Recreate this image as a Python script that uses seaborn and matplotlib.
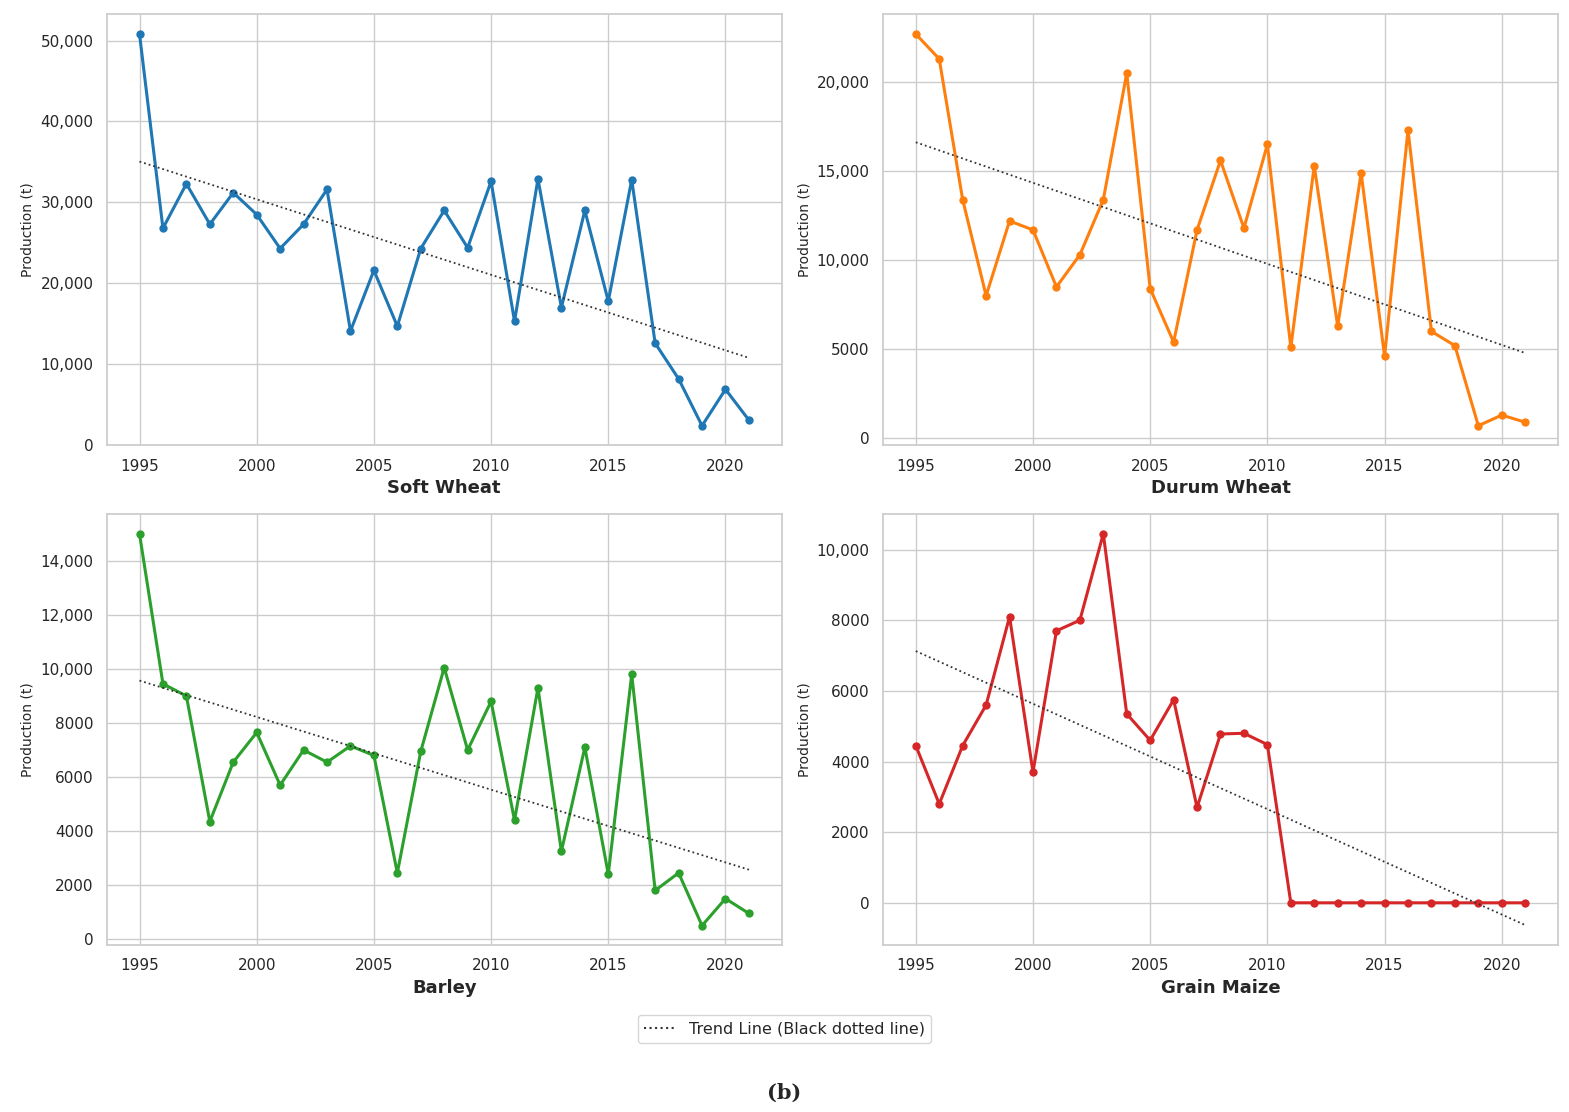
import numpy as np
import seaborn as sns
import matplotlib.pyplot as plt
from matplotlib.ticker import FuncFormatter
from matplotlib.lines import Line2D

years = list(range(1995, 2022))
soft_wheat = [50800, 26800, 32300, 27300, 31200, 28500, 24300, 27300, 31600, 14100,
              21600, 14700, 24300, 29000, 24400, 32600, 15300, 32900, 17000, 29000,
              17800, 32800, 12600, 8200, 2400, 6900, 3100]
durum_wheat = [22700, 21300, 13400, 8000, 12200, 11700, 8500, 10300, 13400, 20500,
               8400, 5400, 11700, 15600, 11800, 16500, 5100, 15300, 6300, 14900,
               4600, 17300, 6000, 5200, 700, 1300, 900]
barley = [15000, 9450, 9000, 4350, 6550, 7650, 5700, 7000, 6550, 7150,
          6800, 2450, 6950, 10050, 7000, 8800, 4400, 9300, 3250, 7100,
          2400, 9800, 1800, 2450, 500, 1500, 950]
grain_maize = [4450, 2800, 4450, 5600, 8100, 3700, 7700, 8000, 10450, 5350,
               4600, 5750, 2700, 4780, 4800, 4480, 0, 0, 0, 0,
               0, 0, 0, 0, 0, 0, 0]

crops = [("Soft Wheat", soft_wheat, "#1f77b4"),
         ("Durum Wheat", durum_wheat, "#ff7f0e"),
         ("Barley", barley, "#2ca02c"),
         ("Grain Maize", grain_maize, "#d62728")]

sns.set_theme(style="whitegrid")
plt.rcParams['font.family'] = ['DejaVu Sans']

fig, axes = plt.subplots(2, 2, figsize=(15.69, 11.12), dpi=100)

def fmt(v, pos):
    return f"{v:,.0f}" if abs(v) >= 10000 else f"{v:.0f}"

for ax, (name, vals, color) in zip(axes.flat, crops):
    sns.lineplot(x=years, y=vals, ax=ax, color=color, marker="o", markersize=6,
                 markeredgewidth=0, linewidth=2.2)
    k, b = np.polyfit(years, vals, 1)
    tr = [k * y + b for y in years]
    ax.plot(years, tr, color="#333333", linestyle=":", linewidth=1.3)
    ax.set_xlabel(name, fontsize=13, fontweight="bold")
    ax.set_ylabel("Production (t)", fontsize=10)
    ax.yaxis.set_major_formatter(FuncFormatter(fmt))
    ax.tick_params(labelsize=11)
    ax.set_xticks([1995, 2000, 2005, 2010, 2015, 2020])
    ax.set_xlim(1993.6, 2022.4)
    for s in ax.spines.values():
        s.set_color("#cccccc")

axes[1, 1].set_ylim(-1200, 11000)
axes[1, 1].set_yticks([0, 2000, 4000, 6000, 8000, 10000])

handle = Line2D([], [], color="#333333", linestyle=":", linewidth=1.5)
fig.legend([handle], ["Trend Line (Black dotted line)"], loc="lower center",
           bbox_to_anchor=(0.5, 0.055), fontsize=11.5, frameon=True)
fig.text(0.5, 0.012, "(b)", ha="center", fontsize=15, fontweight="bold",
         family="DejaVu Serif")

fig.subplots_adjust(left=0.068, right=0.993, top=0.987, bottom=0.15,
                    hspace=0.16, wspace=0.15)
fig.savefig("out.png")
